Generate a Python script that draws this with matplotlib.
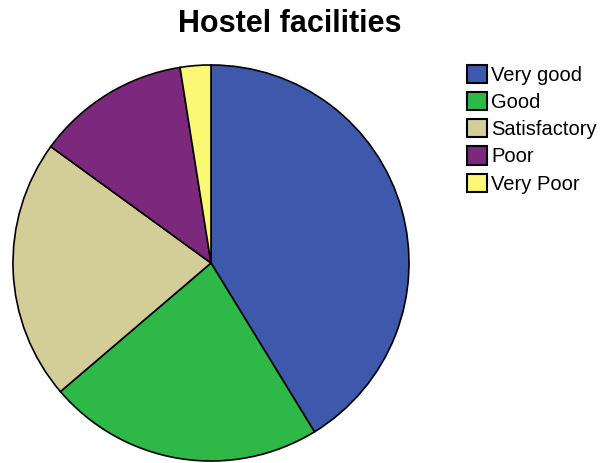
import matplotlib
matplotlib.use("Agg")
import matplotlib.pyplot as plt

plt.rcParams['font.family'] = ['Liberation Sans', 'DejaVu Sans']

categories = ["Very good", "Good", "Satisfactory", "Poor", "Very Poor"]
counts = [33, 18, 17, 10, 2]
colors = ["#3E58AC", "#2EB848", "#D3CE97", "#7C287D", "#FBF873"]

W, H = 613, 463
fig = plt.figure(figsize=(W / 100, H / 100), dpi=100)

# pie axes: center (211, 263) px, radius 200 px
cx, cy, r = 211, 263, 200
ax = fig.add_axes([(cx - r) / W, (H - cy - r) / H, 2 * r / W, 2 * r / H])
wedges, _ = ax.pie(counts, colors=colors, startangle=90, counterclock=False,
                   wedgeprops=dict(edgecolor="black", linewidth=1.2),
                   radius=1.0)
ax.set_xlim(-1.01, 1.01)
ax.set_ylim(-1.01, 1.01)
ax.set_aspect("equal")
ax.axis("off")

fig.text(290 / W, 1 - 24 / H, "Hostel facilities", ha="center", va="center",
         fontsize=22, fontweight="bold")

leg = fig.legend(wedges, categories, loc="upper left",
                 bbox_to_anchor=(467 / W, 1 - 65 / H), frameon=False,
                 fontsize=14.5, handlelength=1.0, handleheight=1.0,
                 handletextpad=0.2, labelspacing=0.36, borderaxespad=0,
                 borderpad=0)
for h in leg.legend_handles:
    h.set_linewidth(1.5)

fig.savefig("out.png", dpi=100)
